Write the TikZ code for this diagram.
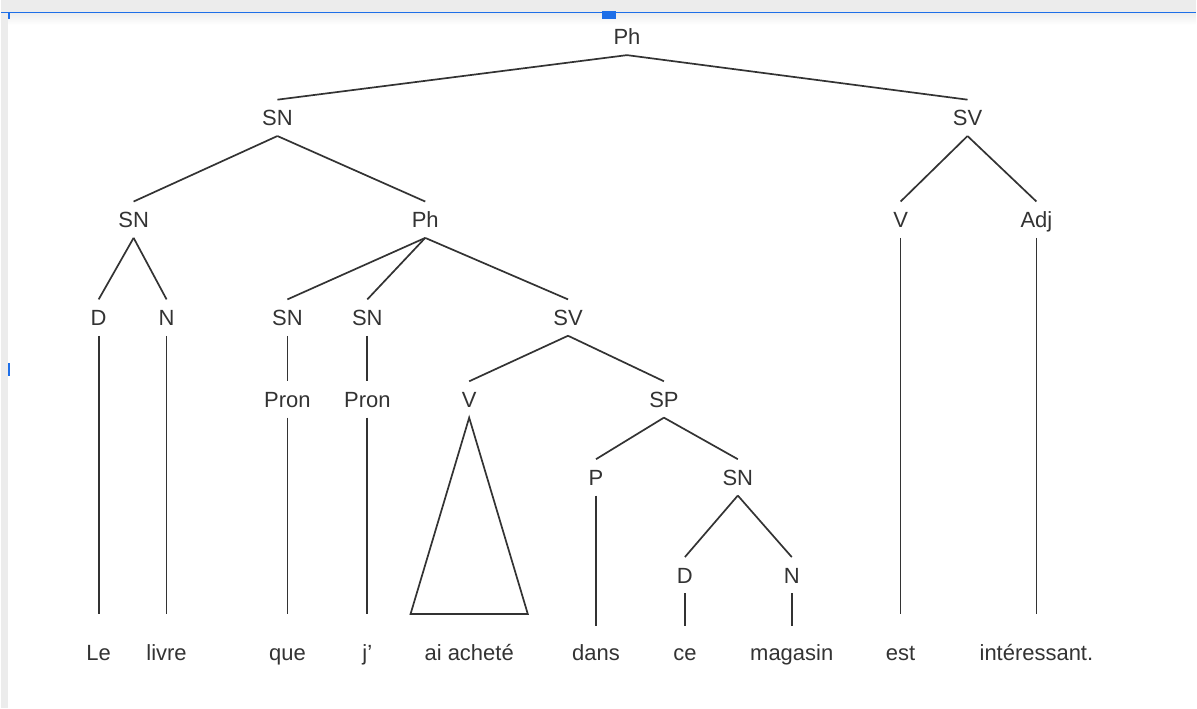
\documentclass[tikz,border=0pt]{standalone}
\usepackage{fontspec}
\setmainfont{Liberation Sans}
\usetikzlibrary{positioning}
\definecolor{inkgray}{HTML}{333333}
\definecolor{uiblue}{HTML}{1E6FE8}
\definecolor{uigray}{HTML}{ECECEC}

\begin{document}
\begin{tikzpicture}[x=1pt,y=-1pt,
  cat/.style={font=\fontsize{22}{26}\selectfont,text=inkgray,inner sep=0pt,
    text height=15.8pt,text depth=0pt,minimum height=36pt},
  leaf/.style={cat,minimum height=76pt},
  branch/.style={draw=inkgray,line width=1.7pt},
  lowbranch/.style={branch,shorten >=-12pt}]
  % window around the tree
  \fill[white] (0,0) rectangle (1197,709);
  \fill[uigray] (0,0) rectangle (1197,12);
  \shade[top color=gray!14,bottom color=white] (0,13) rectangle (1197,25);
  \fill[uigray] (0,12) rectangle (7,709);
  \draw[uiblue,line width=1.6pt] (0,12.5) -- (1197,12.5);
  \fill[uiblue] (602,11) rectangle (616,19);
  \fill[uiblue] (7,13) rectangle (9,19);
  \fill[uiblue] (7,363) rectangle (9,376);
  \useasboundingbox (0,0) rectangle (1197,709);

  \node[cat] (ph) at (627,37) {Ph};
  \node[cat] (sn) at (277,118) {SN};
  \node[cat] (sv) at (968,118) {SV};
  \node[cat] (snle) at (133,220) {SN};
  \node[cat] (phrel) at (425,220) {Ph};
  \node[cat] (vest) at (901,220) {V};
  \node[cat] (adj) at (1037,220) {Adj};
  \node[cat] (dle) at (98,318) {D};
  \node[cat] (nlivre) at (166,318) {N};
  \node[cat] (snque) at (287,318) {SN};
  \node[cat] (snje) at (367,318) {SN};
  \node[cat] (svrel) at (568,318) {SV};
  \node[cat] (pronque) at (287,400) {Pron};
  \node[cat] (pronje) at (367,400) {Pron};
  \node[cat] (vai) at (469,400) {V};
  \node[cat] (sp) at (664,400) {SP};
  \node[cat] (p) at (596,478) {P};
  \node[cat] (snmag) at (738,478) {SN};
  \node[cat] (dce) at (685,576) {D};
  \node[cat] (nmag) at (792,576) {N};

  \node[leaf] (le) at (98,653) {Le};
  \node[leaf] (livre) at (166,653) {livre};
  \node[leaf] (que) at (287,653) {que};
  \node[leaf] (je) at (367,653) {j'};
  \node[leaf,minimum width=117pt] (aiach) at (469,653) {ai acheté};
  \node[leaf] (dans) at (596,653) {dans};
  \node[leaf] (ce) at (685,653) {ce};
  \node[leaf] (magasin) at (792,653) {magasin};
  \node[leaf] (est) at (901,653) {est};
  \node[leaf] (inter) at (1037,653) {intéressant.};

  \draw[branch] (ph.south) -- (sn.north);
  \draw[branch] (ph.south) -- (sv.north);
  \draw[branch] (sn.south) -- (snle.north);
  \draw[branch] (sn.south) -- (phrel.north);
  \draw[branch] (sv.south) -- (vest.north);
  \draw[branch] (sv.south) -- (adj.north);
  \draw[branch] (snle.south) -- (dle.north);
  \draw[branch] (snle.south) -- (nlivre.north);
  \draw[branch] (phrel.south) -- (snque.north);
  \draw[branch] (phrel.south) -- (snje.north);
  \draw[branch] (phrel.south) -- (svrel.north);
  \draw[branch] (snque.south) -- (pronque.north);
  \draw[branch] (snje.south) -- (pronje.north);
  \draw[branch] (svrel.south) -- (vai.north);
  \draw[branch] (svrel.south) -- (sp.north);
  \draw[branch] (sp.south) -- (p.north);
  \draw[branch] (sp.south) -- (snmag.north);
  \draw[branch] (snmag.south) -- (dce.north);
  \draw[branch] (snmag.south) -- (nmag.north);

  \draw[branch] (dle.south) -- (le.north);
  \draw[branch] (nlivre.south) -- (livre.north);
  \draw[branch] (pronque.south) -- (que.north);
  \draw[branch] (pronje.south) -- (je.north);
  \draw[branch] (vai.south) -- (aiach.north west) -- (aiach.north east) -- cycle;
  \draw[lowbranch] (p.south) -- (dans.north);
  \draw[lowbranch] (dce.south) -- (ce.north);
  \draw[lowbranch] (nmag.south) -- (magasin.north);
  \draw[branch] (vest.south) -- (est.north);
  \draw[branch] (adj.south) -- (inter.north);
\end{tikzpicture}
\end{document}
